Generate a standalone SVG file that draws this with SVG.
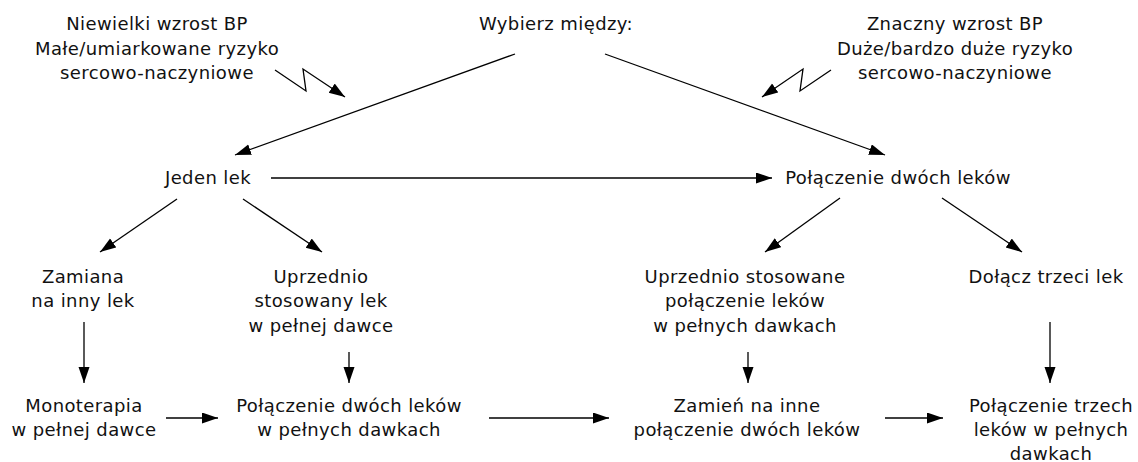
<svg xmlns="http://www.w3.org/2000/svg" width="1138" height="462" viewBox="0 0 1138 462">
<defs>
<marker id="ah" markerUnits="userSpaceOnUse" markerWidth="17" markerHeight="12" refX="16" refY="5.5" orient="auto">
<path d="M0,0 L16,5.5 L0,11 z" fill="#000"/>
</marker>
<style>
text{font-family:"DejaVu Sans",Verdana,sans-serif;font-size:18px;fill:#111;text-anchor:middle;letter-spacing:0.4px}
.c line,.c polyline{stroke:#000;stroke-width:1.3;fill:none;marker-end:url(#ah)}
</style>
</defs>
<rect width="1138" height="462" fill="#fff"/>
<g class="c" id="connectors">
<polyline points="275,70 306,91 303,69 345,97"/>
<polyline points="831,70 800,91 803,69 762,97"/>
<line x1="515" y1="54" x2="235" y2="155"/>
<line x1="605" y1="54" x2="885" y2="155"/>
<line x1="271" y1="178" x2="772" y2="178"/>
<line x1="177" y1="199" x2="100" y2="252"/>
<line x1="243" y1="199" x2="322" y2="252"/>
<line x1="840" y1="198" x2="765" y2="252"/>
<line x1="942" y1="198" x2="1022" y2="252"/>
<line x1="84" y1="322" x2="84" y2="383"/>
<line x1="349" y1="352" x2="349" y2="383"/>
<line x1="748" y1="352" x2="748" y2="383"/>
<line x1="1050" y1="322" x2="1050" y2="383"/>
<line x1="166" y1="418" x2="218" y2="418"/>
<line x1="489" y1="418" x2="609" y2="418"/>
<line x1="885" y1="418" x2="943" y2="418"/>
</g>
<g id="n-low"><text x="157" y="30">Niewielki wzrost BP</text><text x="157" y="54.5">Małe/umiarkowane ryzyko</text><text x="157" y="79">sercowo-naczyniowe</text></g>
<g id="n-choose"><text x="556" y="30">Wybierz między:</text></g>
<g id="n-high"><text x="955" y="30">Znaczny wzrost BP</text><text x="955" y="54.5">Duże/bardzo duże ryzyko</text><text x="955" y="79">sercowo-naczyniowe</text></g>
<g id="n-one"><text x="208" y="184">Jeden lek</text></g>
<g id="n-two"><text x="898" y="184">Połączenie dwóch leków</text></g>
<g id="n-switch"><text x="83" y="283">Zamiana</text><text x="83" y="307">na inny lek</text></g>
<g id="n-prev"><text x="321" y="283">Uprzednio</text><text x="321" y="307">stosowany lek</text><text x="321" y="332">w pełnej dawce</text></g>
<g id="n-prevcomb"><text x="745" y="283">Uprzednio stosowane</text><text x="745" y="307">połączenie leków</text><text x="745" y="332">w pełnych dawkach</text></g>
<g id="n-third"><text x="1046" y="283">Dołącz trzeci lek</text></g>
<g id="n-mono"><text x="84" y="412">Monoterapia</text><text x="84" y="436">w pełnej dawce</text></g>
<g id="n-comb2"><text x="349" y="412">Połączenie dwóch leków</text><text x="349" y="436">w pełnych dawkach</text></g>
<g id="n-other"><text x="747" y="412">Zamień na inne</text><text x="747" y="436">połączenie dwóch leków</text></g>
<g id="n-comb3"><text x="1051" y="412">Połączenie trzech</text><text x="1051" y="436">leków w pełnych</text><text x="1051" y="460">dawkach</text></g>
</svg>
